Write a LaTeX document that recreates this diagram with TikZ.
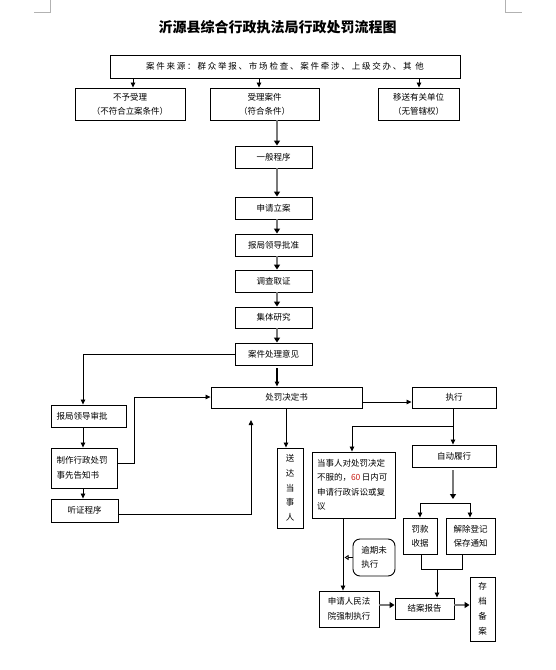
\documentclass[tikz,border=0pt]{standalone}
\usepackage{fontspec}
\setmainfont{Noto Sans CJK SC}
\usetikzlibrary{arrows.meta,calc}
\definecolor{arrgray}{RGB}{120,120,120}
\definecolor{numred}{RGB}{200,30,20}
\begin{document}
\begin{tikzpicture}[x=1pt,y=-1pt,
  box/.style={draw,line width=0.9pt,inner sep=0pt,font=\fontsize{8.5}{14}\selectfont,align=center},
  lbox/.style={box,align=left,inner xsep=5pt},
  vbox/.style={box,font=\fontsize{8.5}{14.7}\selectfont},
  garr/.style={draw=arrgray,line width=1.8pt,-{Triangle[length=5pt,width=6pt,color=black]}},
  barr/.style={draw=black,line width=0.8pt,-{Triangle[length=5pt,width=4.5pt]}},
  ln/.style={draw=black,line width=0.8pt},
  cornermark/.style={draw=gray!60,line width=0.8pt}
]
\useasboundingbox (0,0) rectangle (556,670);
% page corner marks
\draw[cornermark] (50,0) -- (50,12) -- (34,12);
\draw[cornermark] (505,0) -- (505,12) -- (522,12);
% title
\node[font=\fontsize{14}{16}\selectfont\bfseries] (title) at (277.5,27) {沂源县综合行政执法局行政处罚流程图};
% top row
\node[box,minimum width=350pt,minimum height=23pt,font=\fontsize{8.5}{14}\selectfont\addfontfeature{LetterSpace=21}] (src) at (285,66.5) {案件来源：群众举报、市场检查、案件牵涉、上级交办、其 他};
\node[box,minimum width=110pt,minimum height=32pt] (nosl) at (130,104) {不予受理\\（不符合立案条件）};
\node[box,minimum width=109pt,minimum height=32pt] (sl) at (264.5,104) {受理案件\\（符合条件）};
\node[box,minimum width=81pt,minimum height=32pt] (ys) at (418.5,104) {移送有关单位\\（无管辖权）};
% main column
\node[box,minimum width=77pt,minimum height=22pt] (ybcx) at (273.5,157) {一般程序};
\node[box,minimum width=77pt,minimum height=22pt] (sqla) at (273.5,208) {申请立案};
\node[box,minimum width=77pt,minimum height=22pt] (pz) at (273.5,245) {报局领导批准};
\node[box,minimum width=77pt,minimum height=22pt] (dcqz) at (273.5,281) {调查取证};
\node[box,minimum width=77pt,minimum height=21pt] (jtyj) at (273.5,317.5) {集体研究};
\node[box,minimum width=77pt,minimum height=22pt] (clyj) at (273.5,354) {案件处理意见};
\node[box,minimum width=151pt,minimum height=21pt] (cfjd) at (286.5,397.5) {处罚决定书};
% left column
\node[lbox,text width=64pt,inner xsep=5.5pt,minimum height=22pt] (ldsp) at (88.5,416) {报局领导审批};
\node[lbox,text width=55pt,inner xsep=5.5pt,minimum height=40pt,font=\fontsize{8.5}{15}\selectfont] (zz) at (84,468) {制作行政处罚\\事先告知书};
\node[box,minimum width=67pt,minimum height=23pt] (tz) at (84.5,510.5) {听证程序};
% middle / right
\node[vbox,minimum width=26pt,minimum height=80pt] (sd) at (290,488) {送\\达\\当\\事\\人};
\node[box,minimum width=84pt,minimum height=21pt] (zx) at (454,397.5) {执行};
\node[box,minimum width=84pt,minimum height=22pt] (zdlx) at (454,456) {自动履行};
\node[lbox,text width=73pt,minimum height=66pt,font=\fontsize{8.5}{14.5}\selectfont] (dsr) at (353.5,485) {当事人对处罚决定\\不服的，{\color{numred}60}\,日内可\\申请行政诉讼或复\\议};
\node[box,minimum width=34pt,minimum height=36pt] (fk) at (420,536) {罚款\\收据};
\node[box,minimum width=49pt,minimum height=36pt] (jc) at (470.5,536) {解除登记\\保存通知};
\node[box,minimum width=42pt,minimum height=37pt,rounded corners=7pt,align=left,font=\fontsize{8.5}{13.5}\selectfont] (yq) at (374,557.5) {逾期未\\执行};
\node[box,minimum width=60pt,minimum height=36pt,font=\fontsize{8.5}{15}\selectfont] (fy) at (349,609) {申请人民法\\院强制执行};
\node[box,minimum width=59pt,minimum height=21pt] (jabg) at (424.5,608.5) {结案报告};
\node[vbox,minimum width=25pt,minimum height=64pt,font=\fontsize{8.5}{15}\selectfont] (cd) at (482.5,609) {存\\档\\备\\案};
% connectors: top
\draw[barr] (src.south -| 133,0) -- (nosl.north -| 133,0);
\draw[barr] (src.south -| 259,0) -- (sl.north -| 259,0);
\draw[barr] (src.south -| 419,0) -- (ys.north -| 419,0);
% main column
\draw[garr] (sl.south -| 277,0) -- (ybcx.north -| 277,0);
\draw[garr] (ybcx.south -| 277,0) -- (sqla.north -| 277,0);
\draw[garr] (sqla.south -| 277,0) -- (pz.north -| 277,0);
\draw[garr] (pz.south -| 277,0) -- (dcqz.north -| 277,0);
\draw[garr] (dcqz.south -| 277,0) -- (jtyj.north -| 277,0);
\draw[garr] (jtyj.south -| 277,0) -- (clyj.north -| 277,0);
\coordinate (c1) at (277,368);
\draw[barr,line width=1.2pt] (c1) -- (cfjd.north -| 277,0);
% left branch
\draw[barr] (clyj.west) -| (ldsp.north -| 83,0);
\draw[barr] (ldsp.south -| 83,0) -- (zz.north -| 83,0);
\draw[barr] (zz.south -| 83,0) -- (tz.north -| 83,0);
\coordinate (c2) at (134,397);
\draw[barr] (zz.east |- 0,463) -| (c2) -- (cfjd.west |- c2);
\coordinate (c3) at (251,420);
\draw[barr] (tz.east |- 0,514) -| (c3);
% right
\draw[barr] (cfjd.south -| 286,0) -- (sd.north -| 286,0);
\draw[barr] (cfjd.east |- 0,402) -- (zx.west |- 0,402);
\coordinate (b1) at (453,426);
\draw[ln] (zx.south -| b1) -- (b1);
\draw[barr] (b1) -| (dsr.north -| 352,0);
\draw[barr] (b1) -- (zdlx.north -| b1);
\coordinate (b2) at (453,470);
\draw[garr] (b2) -- (453,499);
\coordinate (b3) at (420,503);
\coordinate (b4) at (470,503);
\draw[ln] (b3) -- (b4);
\draw[barr] (b3) -- (fk.north -| b3);
\draw[barr] (b4) -- (jc.north -| b4);
\coordinate (b5) at (421,569);
\coordinate (b6) at (462,569);
\draw[ln] (fk.south -| b5) -- (b5) -- (b6) -- (jc.south -| b6);
\draw[barr] (437,569) -- (jabg.north -| 437,0);
% bottom left
\draw[barr] (dsr.south -| 343,0) -- (fy.north -| 343,0);
\draw[ln,-{Triangle[open,length=4pt,width=5pt]}] (yq.west) -- (344.5,557.5);
\draw[garr] (fy.east |- 0,605) -- (jabg.west |- 0,605);
\draw[garr] (jabg.east |- 0,605) -- (cd.west |- 0,605);
\end{tikzpicture}
\end{document}
